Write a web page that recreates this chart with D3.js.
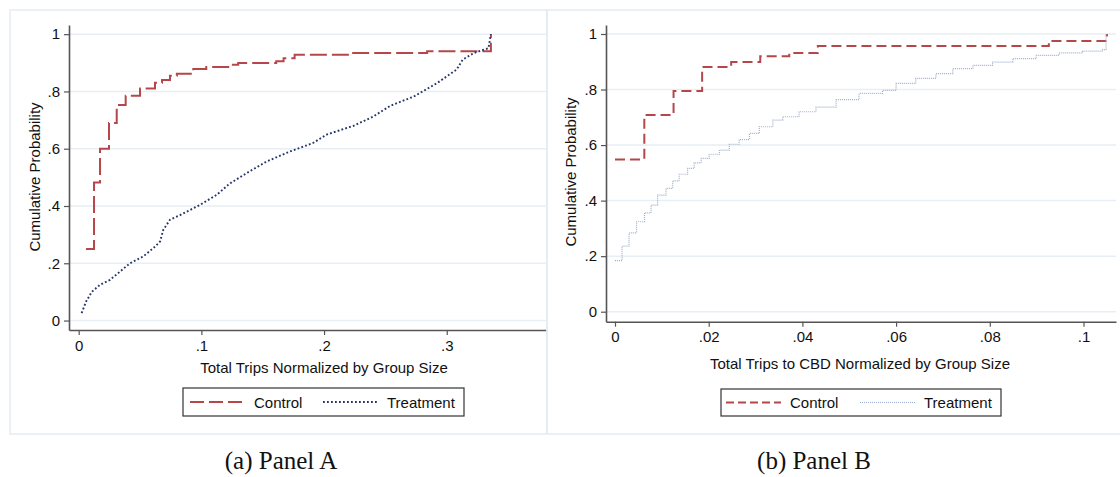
<!DOCTYPE html>
<html>
<head>
<meta charset="utf-8">
<script src="https://cdn.jsdelivr.net/npm/d3@7"></script>
<style>
    body { margin: 0; background: #fff; }
    svg { display: block; font-family: "Liberation Sans", Arial, sans-serif; }
</style>
</head>
<body>
<svg id="chart"></svg>
<script>
// values
const seriesNames = ["Control", "Treatment"]
const yTicks = [0, .2, .4, .6, .8, 1]
const xTicksA = [0, .1, .2, .3]
const xTicksB = [0, .02, .04, .06, .08, .1]

const controlAx = [0.006, 0.0125, 0.0174, 0.0247, 0.031, 0.0383, 0.050, 0.0622, 0.0679, 0.0744, 0.080, 0.0934, 0.104, 0.123, 0.130, 0.161, 0.167, 0.176, 0.222, 0.284, 0.336]
const controlAy = [0.25, 0.482, 0.60, 0.69, 0.753, 0.785, 0.81, 0.83, 0.84, 0.855, 0.862, 0.878, 0.885, 0.893, 0.899, 0.905, 0.916, 0.928, 0.934, 0.94, 1.0]

const treatAx = [0.0024, 0.006, 0.0106, 0.0174, 0.0255, 0.0337, 0.0418, 0.0527, 0.0622, 0.0663, 0.069, 0.0744, 0.0826, 0.0989, 0.1125, 0.123, 0.137, 0.153, 0.172, 0.191, 0.202, 0.224, 0.240, 0.254, 0.273, 0.292, 0.308, 0.313, 0.322, 0.334, 0.336]
const treatAy = [0.026, 0.066, 0.10, 0.125, 0.142, 0.171, 0.20, 0.224, 0.258, 0.276, 0.317, 0.352, 0.368, 0.404, 0.439, 0.478, 0.515, 0.555, 0.59, 0.62, 0.649, 0.68, 0.712, 0.75, 0.782, 0.829, 0.876, 0.911, 0.934, 0.951, 1.0]

const controlBx = [0, 0.00626, 0.0125, 0.0186, 0.0248, 0.031, 0.0372, 0.0433, 0.0926, 0.105]
const controlBy = [0.548, 0.708, 0.795, 0.881, 0.899, 0.92, 0.932, 0.957, 0.975, 1.0]

const treatBx = [0, 0.0015, 0.003, 0.0046, 0.0063, 0.0077, 0.0091, 0.0109, 0.0123, 0.0137, 0.0155, 0.0169, 0.0184, 0.0201, 0.0223, 0.0244, 0.0265, 0.0287, 0.0308, 0.0337, 0.0358, 0.0393, 0.0429, 0.0472, 0.0521, 0.0571, 0.06, 0.0642, 0.0685, 0.0721, 0.0764, 0.0806, 0.0849, 0.0899, 0.0948, 0.0998, 0.1041, 0.1048]
const treatBy = [0.184, 0.236, 0.284, 0.324, 0.356, 0.384, 0.42, 0.444, 0.471, 0.495, 0.516, 0.536, 0.552, 0.567, 0.582, 0.603, 0.62, 0.642, 0.666, 0.69, 0.702, 0.72, 0.737, 0.764, 0.786, 0.797, 0.822, 0.84, 0.857, 0.875, 0.887, 0.899, 0.911, 0.923, 0.932, 0.938, 0.944, 1.0]

const red = "#b5474a"
const gridColor = "#e7eef5"
const axisColor = "#555"
const fontSize = "15px"

let svg = d3.select("#chart")
    .attr("width", 1120)
    .attr("height", 477)

svg.append("rect")
    .attr("width", 1120)
    .attr("height", 477)
    .attr("fill", "#fff")

const fmt = d => d === 0 ? "0" : d === 1 ? "1" : String(d).replace(/^0/, "")

function zip(xs, ys)
{
    return xs.map((x, i) => ({ x: x, y: ys[i] }))
}

function drawPanel(p)
{
    // outer light frame
    svg.append("rect")
        .attr("x", p.frame[0])
        .attr("y", p.frame[1])
        .attr("width", p.frame[2])
        .attr("height", p.frame[3])
        .attr("fill", "none")
        .attr("stroke", "#e4ebf2")
        .attr("stroke-width", 1.5)

    let xScale = d3.scaleLinear().domain(p.xDomain).range([p.left, p.right])
    let yScale = d3.scaleLinear().domain(p.yDomain).range([p.bottom, p.top])

    let g = svg.append("g")

    // gridlines
    g.selectAll(".grid")
        .data(yTicks)
        .enter()
        .append("line")
        .attr("x1", p.left)
        .attr("x2", p.right)
        .attr("y1", d => yScale(d))
        .attr("y2", d => yScale(d))
        .attr("stroke", gridColor)
        .attr("stroke-width", 1.5)

    let yAxis = d3.axisLeft(yScale)
        .tickValues(yTicks)
        .tickFormat(fmt)
        .tickSize(5)
        .tickSizeOuter(0)
        .tickPadding(4)

    let xAxis = d3.axisBottom(xScale)
        .tickValues(p.xTicks)
        .tickFormat(fmt)
        .tickSize(5)
        .tickSizeOuter(0)
        .tickPadding(5)

    let ya = g.append("g")
        .attr("transform", `translate(${p.left},0)`)
        .call(yAxis)
    let xa = g.append("g")
        .attr("transform", `translate(0,${p.bottom})`)
        .call(xAxis)

    ;[ya, xa].forEach(a =>
    {
        a.select(".domain").attr("stroke", axisColor).attr("stroke-width", 1.6)
        a.selectAll(".tick line").attr("stroke", axisColor).attr("stroke-width", 1.2)
        a.selectAll(".tick text")
            .attr("fill", "#111")
            .style("font-size", fontSize)
            .style("font-family", "Liberation Sans, Arial, sans-serif")
    })

    // series
    g.append("path")
        .datum(zip(p.cx, p.cy))
        .attr("d", d3.line().x(d => xScale(d.x)).y(d => yScale(d.y)).curve(d3.curveStepAfter))
        .attr("fill", "none")
        .attr("stroke", red)
        .attr("stroke-width", 2)
        .attr("stroke-dasharray", p.controlDash)

    g.append("path")
        .datum(zip(p.tx, p.ty))
        .attr("d", d3.line().x(d => xScale(d.x)).y(d => yScale(d.y)).curve(p.treatCurve))
        .attr("fill", "none")
        .attr("stroke", p.treatColor)
        .attr("stroke-width", p.treatWidth)
        .attr("stroke-dasharray", p.treatDash)

    // axis titles
    svg.append("text")
        .attr("transform", `translate(${p.yTitle[0]},${p.yTitle[1]}) rotate(-90)`)
        .attr("text-anchor", "middle")
        .style("font-size", fontSize)
        .attr("fill", "#111")
        .text("Cumulative Probability")

    svg.append("text")
        .attr("x", p.xTitle[0])
        .attr("y", p.xTitle[1])
        .attr("text-anchor", "middle")
        .style("font-size", fontSize)
        .attr("fill", "#111")
        .text(p.xLabel)

    // legend
    let lg = svg.append("g")
    lg.append("rect")
        .attr("x", p.legend[0])
        .attr("y", p.legend[1])
        .attr("width", p.legend[2])
        .attr("height", p.legend[3])
        .attr("fill", "#fff")
        .attr("stroke", "#333")
        .attr("stroke-width", 1.2)

    let ly = p.legend[1] + p.legend[3] / 2
    let items = [
        { name: seriesNames[0], x: p.legendItems[0], stroke: red, w: 2, dash: p.legendControlDash },
        { name: seriesNames[1], x: p.legendItems[1], stroke: p.treatColor, w: p.treatWidth, dash: p.treatDash }
    ]
    items.forEach(it =>
    {
        lg.append("line")
            .attr("x1", it.x)
            .attr("x2", it.x + 55)
            .attr("y1", ly)
            .attr("y2", ly)
            .attr("stroke", it.stroke)
            .attr("stroke-width", it.w)
            .attr("stroke-dasharray", it.dash)
        lg.append("text")
            .attr("x", it.x + 64)
            .attr("y", ly + 5.5)
            .style("font-size", fontSize)
            .attr("fill", "#111")
            .text(it.name)
    })

    // caption
    svg.append("text")
        .attr("x", p.caption[0])
        .attr("y", p.caption[1])
        .attr("text-anchor", "middle")
        .style("font-family", "Liberation Serif, DejaVu Serif, serif")
        .style("font-size", "25px")
        .attr("fill", "#111")
        .text(p.captionText)
}

drawPanel({
    frame: [10, 10, 537, 424],
    left: 69, right: 546, top: 25, bottom: 330,
    xDomain: [-0.0079, 0.3809],
    yDomain: [-0.033, 1.032],
    xTicks: xTicksA,
    cx: controlAx, cy: controlAy,
    tx: treatAx, ty: treatAy,
    controlDash: "17,5",
    legendControlDash: "14,5",
    treatColor: "#24356a",
    treatWidth: 1.9,
    treatDash: "1.8,2.2",
    treatCurve: d3.curveLinear,
    yTitle: [40, 177],
    xTitle: [324, 373],
    xLabel: "Total Trips Normalized by Group Size",
    legend: [183, 388, 281, 28],
    legendItems: [190, 323],
    caption: [281, 469],
    captionText: "(a) Panel A"
})

drawPanel({
    frame: [547, 10, 580, 424],
    left: 606, right: 1116, top: 25, bottom: 321.7,
    xDomain: [-0.00192, 0.10694],
    yDomain: [-0.036, 1.0324],
    xTicks: xTicksB,
    cx: controlBx, cy: controlBy,
    tx: treatBx, ty: treatBy,
    controlDash: "10,5",
    legendControlDash: "8,4",
    treatColor: "#9fb0cf",
    treatWidth: 1.2,
    treatDash: "1,1",
    treatCurve: d3.curveStepAfter,
    yTitle: [576, 172],
    xTitle: [860, 369],
    xLabel: "Total Trips to CBD Normalized by Group Size",
    legend: [721, 389, 280, 27],
    legendItems: [726, 860],
    caption: [814, 469],
    captionText: "(b) Panel B"
})
</script>
</body>
</html>
